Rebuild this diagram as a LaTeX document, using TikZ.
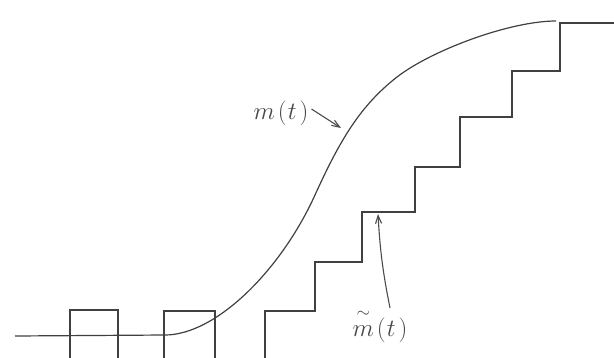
\documentclass[tikz,border=0pt]{standalone}
\usepackage{amsmath}
\usetikzlibrary{arrows.meta}
\begin{document}
\begin{tikzpicture}[x=1pt,y=-1pt,
  ink/.style={draw=black!75,line width=1.4pt,line join=miter},
  lbl/.style={font=\fontsize{24}{28}\selectfont,text=black!72,inner sep=1pt},
  pointer/.style={draw=black!70,line width=1.1pt,-{Straight Barb[length=8pt,width=6pt]}}]
\useasboundingbox (0,0) rectangle (614,357);
% sampled pulses
\draw[ink] (70,360) -- (70,310) -- (118,310) -- (118,360);
\draw[ink] (164,360) -- (164,311) -- (215,311) -- (215,360);
% staircase approximation
\draw[ink] (265,360) -- (265,311) -- (315,311) -- (315,262) -- (362,262) -- (362,212)
  -- (415,212) -- (415,167) -- (460,167) -- (460,117) -- (512,117) -- (512,71)
  -- (560,71) -- (560,23) -- (614,23);
% continuous signal m(t)
\draw[ink,line width=1.2pt] (15,336) -- (165,335)
  .. controls (215,335) and (280,272) .. (315,195)
  .. controls (340,140) and (360,106) .. (397,77)
  .. controls (432,50) and (510,21) .. (556,21);
% labels
\node[lbl] (m) at (281,113) {$m\mkern2mu(\mkern1mu t\mkern2mu)$};
\node[lbl] (mt) at (380,326) {$\overset{\raisebox{3pt}{$\scriptstyle\sim$}}{m}\mkern2mu(\mkern1mu t\mkern2mu)$};
\coordinate (mc) at (341,128);
\coordinate (ms) at (378,214);
\draw[pointer] (m.east) ++(2,-4) -- (mc);
\draw[pointer] (mt.north) ++(10,0) to[bend left=4] (ms);
\end{tikzpicture}
\end{document}
